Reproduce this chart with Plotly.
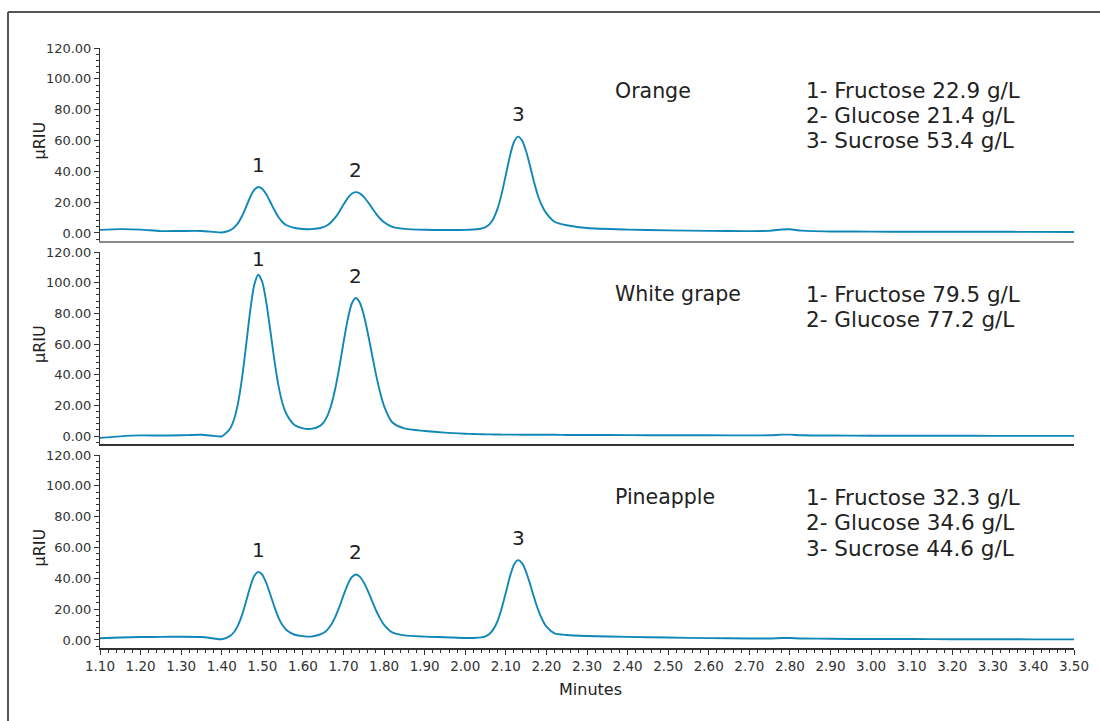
import plotly.graph_objects as go

# ---------------- data ----------------
minutes = [1.10, 1.15, 1.20, 1.25, 1.30, 1.35, 1.38, 1.40, 1.42, 1.43, 1.44, 1.45, 1.46, 1.47,
           1.48, 1.49, 1.50, 1.51, 1.52, 1.53, 1.54, 1.55, 1.56, 1.58, 1.60, 1.62, 1.64, 1.65,
           1.66, 1.67, 1.68, 1.69, 1.70, 1.71, 1.72, 1.73, 1.74, 1.75, 1.76, 1.77, 1.78, 1.79,
           1.80, 1.82, 1.85, 1.90, 1.95, 2.00, 2.02, 2.04, 2.05, 2.06, 2.07, 2.08, 2.09, 2.10,
           2.11, 2.12, 2.13, 2.14, 2.15, 2.16, 2.17, 2.18, 2.19, 2.20, 2.22, 2.25, 2.30, 2.40,
           2.50, 2.60, 2.70, 2.75, 2.78, 2.80, 2.83, 2.90, 3.00, 3.10, 3.20, 3.30, 3.40, 3.50]

orange = [2.0, 2.5, 2.2, 1.2, 1.3, 1.3, 0.7, 0.3, 1.7, 3.4, 6.4, 11.0, 16.9, 23.2,
          27.9, 29.8, 28.5, 24.9, 19.9, 14.7, 10.2, 7.0, 5.0, 3.2, 2.6, 2.5, 3.1, 3.8,
          5.0, 7.1, 10.1, 14.0, 18.4, 22.5, 25.4, 26.5, 25.7, 23.4, 20.1, 16.3, 12.6, 9.4,
          6.9, 4.0, 2.7, 2.1, 1.9, 2.0, 2.3, 2.9, 3.8, 5.7, 9.6, 16.1, 25.7, 37.7,
          49.8, 59.0, 62.5, 60.0, 53.0, 43.2, 32.6, 23.5, 17.2, 12.7, 7.3, 5.0, 3.2, 2.2,
          1.7, 1.4, 1.2, 1.4, 2.3, 2.4, 1.5, 1.0, 0.9, 0.8, 0.8, 0.8, 0.7, 0.6]

white_grape = [-1.2, -0.2, 0.4, 0.3, 0.5, 0.8, 0.1, -0.2, 4.6, 10.6, 21.3, 37.8, 59.1, 81.4,
               98.5, 105.2, 100.3, 86.8, 68.2, 48.9, 32.5, 21.0, 14.0, 7.0, 5.0, 4.7, 6.3, 8.6,
               13.0, 20.4, 31.3, 45.3, 60.9, 75.6, 86.1, 90.0, 87.1, 78.9, 67.0, 53.5, 40.2, 28.7,
               19.5, 9.0, 5.0, 3.3, 2.2, 1.5, 1.3, 1.2, 1.1, 1.1, 1.0, 1.0, 0.9, 0.9,
               0.9, 0.9, 0.9, 0.8, 0.8, 0.8, 0.8, 0.8, 0.8, 0.8, 0.8, 0.7, 0.7, 0.6,
               0.5, 0.5, 0.4, 0.5, 0.9, 0.9, 0.5, 0.3, 0.2, 0.2, 0.2, 0.1, 0.1, 0.1]

pineapple = [1.1, 1.6, 1.9, 2.0, 2.1, 1.9, 1.0, 0.5, 2.5, 5.0, 9.5, 16.3, 25.1, 34.4,
             41.5, 44.2, 42.3, 36.8, 29.2, 21.3, 14.4, 9.5, 6.3, 3.4, 2.5, 2.2, 3.4, 4.5,
             6.6, 10.0, 15.1, 21.6, 28.9, 35.7, 40.6, 42.5, 41.1, 37.3, 31.8, 25.5, 19.3, 14.0,
             9.8, 4.9, 3.0, 2.2, 1.8, 1.3, 1.3, 1.7, 2.4, 4.0, 7.2, 12.6, 20.7, 30.8,
             41.0, 48.8, 51.8, 49.8, 44.1, 36.0, 27.3, 19.3, 13.1, 8.6, 4.3, 3.2, 2.6, 2.0,
             1.6, 1.2, 1.0, 1.0, 1.3, 1.3, 1.0, 0.8, 0.6, 0.6, 0.5, 0.5, 0.4, 0.4]

sample_names = ["Orange", "White grape", "Pineapple"]
peak_times = [[1.49, 1.73, 2.13], [1.49, 1.73], [1.49, 1.73, 2.13]]
peak_labels = [["1", "2", "3"], ["1", "2"], ["1", "2", "3"]]
results = [["1- Fructose 22.9 g/L", "2- Glucose 21.4 g/L", "3- Sucrose 53.4 g/L"],
           ["1- Fructose 79.5 g/L", "2- Glucose 77.2 g/L"],
           ["1- Fructose 32.3 g/L", "2- Glucose 34.6 g/L", "3- Sucrose 44.6 g/L"]]
series = [orange, white_grape, pineapple]

y_ticks = [0, 20, 40, 60, 80, 100, 120]
x_ticks = [round(1.10 + 0.10 * i, 2) for i in range(25)]

# ---------------- layout helpers (pixel positions) ----------------
W, H = 1100, 721
def fx(p):
    return p / W
def fy(p):
    return 1 - p / H

FONT = "DejaVu Sans"
LINE_COLOR = "#1187b8"
TXT = "#222222"
TICK_TXT = "#333333"

panel_px = [(48, 241), (252, 444), (455, 648)]   # (top, bottom) pixel rows
text_rows = [[91, 115, 140], [294, 319], [497, 522, 548]]
x_dom = [fx(100), fx(1074)]

fig = go.Figure()
annotations = []
layout_axes = {}

for i, ys in enumerate(series):
    n = "" if i == 0 else str(i + 1)
    xa, ya = "x" + n, "y" + n
    fig.add_trace(go.Scatter(x=minutes, y=ys, mode="lines", xaxis=xa, yaxis=ya,
                             line=dict(color=LINE_COLOR, width=1.9, shape="spline", smoothing=0.7),
                             showlegend=False, hoverinfo="x+y"))
    top, bot = panel_px[i]
    last = (i == 2)
    layout_axes["xaxis" + n] = dict(
        domain=x_dom, anchor=ya, range=[1.10, 3.50], showgrid=False, zeroline=False,
        showline=True,
        linecolor=("#8a8a8a" if i == 0 else "#333333"),
        linewidth=(2 if i == 0 else 1.5),
        showticklabels=last, ticks=("outside" if last else ""),
        tickmode="array", tickvals=x_ticks, ticktext=[f"{v:.2f}" for v in x_ticks],
        ticklen=5, tickwidth=1, tickcolor="#333333",
        tickfont=dict(family=FONT, size=13.5, color=TICK_TXT),
        minor=dict(ticks=("outside" if last else ""), dtick=0.02, tick0=1.10, ticklen=3,
                   tickcolor="#333333", showgrid=False),
    )
    layout_axes["yaxis" + n] = dict(
        domain=[fy(bot), fy(top)], anchor=xa, range=[-5.2, 120], showgrid=False,
        zeroline=False, showline=True, linecolor="#333333", linewidth=1,
        ticks="outside", ticklen=5, tickcolor="#333333",
        tickmode="array", tickvals=y_ticks, ticktext=[f"{v:.2f}" for v in y_ticks],
        tickfont=dict(family=FONT, size=13, color=TICK_TXT),
        minor=dict(ticks="outside", dtick=4, tick0=0, ticklen=3, tickcolor="#333333",
                   showgrid=False),
    )
    # y title
    annotations.append(dict(text="μRIU", xref="paper", yref="paper", x=fx(39),
                            y=fy((top + bot) / 2 - 4), textangle=-90, showarrow=False,
                            xanchor="center", yanchor="middle",
                            font=dict(family=FONT, size=16, color=TXT)))
    # peak labels from data
    for t, lab in zip(peak_times[i], peak_labels[i]):
        k = min(range(len(minutes)), key=lambda j: abs(minutes[j] - t))
        ypk = ys[k]
        annotations.append(dict(text=lab, xref=xa, yref=ya, x=t, y=min(ypk + 14.5, 115.6),
                                showarrow=False, xanchor="center", yanchor="middle",
                                font=dict(family=FONT, size=20, color=TXT)))
    # sample name and results
    annotations.append(dict(text=sample_names[i], xref="paper", yref="paper", x=fx(613),
                            y=fy(text_rows[i][0]), showarrow=False, xanchor="left",
                            yanchor="middle", font=dict(family=FONT, size=20.5, color=TXT)))
    for row, line in zip(text_rows[i], results[i]):
        annotations.append(dict(text=line, xref="paper", yref="paper", x=fx(804),
                                y=fy(row), showarrow=False, xanchor="left",
                                yanchor="middle", font=dict(family=FONT, size=21.5, color=TXT)))

annotations.append(dict(text="Minutes", xref="paper", yref="paper", x=fx(590), y=fy(689),
                        showarrow=False, xanchor="center", yanchor="middle",
                        font=dict(family=FONT, size=16, color=TXT)))

shapes = [
    dict(type="line", xref="paper", yref="paper", x0=fx(8), x1=1.0, y0=fy(12), y1=fy(12),
         line=dict(color="#555555", width=2)),
    dict(type="line", xref="paper", yref="paper", x0=fx(8), x1=fx(8), y0=fy(12), y1=0.0,
         line=dict(color="#555555", width=2)),
]

fig.update_layout(
    width=W, height=H, margin=dict(l=0, r=0, t=0, b=0, autoexpand=False),
    paper_bgcolor="white", plot_bgcolor="white",
    font=dict(family=FONT, color=TXT),
    annotations=annotations, shapes=shapes, showlegend=False,
    **layout_axes,
)

fig.write_html("out.html")
